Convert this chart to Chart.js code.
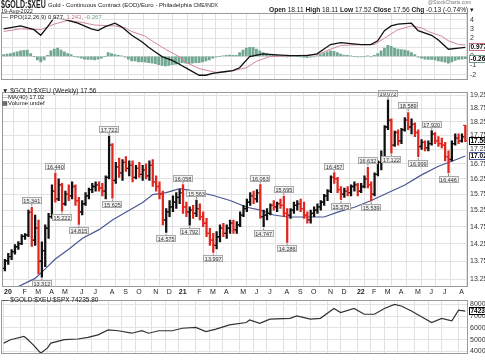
<!DOCTYPE html>
<html><head><meta charset="utf-8">
<script src="https://cdn.jsdelivr.net/npm/chart.js@4.4.1/dist/chart.umd.min.js"></script>
<style>
html,body{margin:0;padding:0;background:#fff}
body{width:485px;height:360px;overflow:hidden;position:relative;font-family:"Liberation Sans",Arial,sans-serif;color:#222}
canvas{position:absolute;left:0}
.t{position:absolute;white-space:nowrap;line-height:1;z-index:5}
</style></head><body>
<canvas id="cP" width="485" height="86" style="top:0"></canvas>
<canvas id="cM" width="485" height="210" style="top:86px"></canvas>
<canvas id="cR" width="485" height="66" style="top:294px"></canvas>

<div class="t" style="left:1px;top:0px;font-size:10px;font-weight:bold;transform:scaleX(0.7);transform-origin:0 0">$GOLD:$XEU</div>
<div class="t" style="left:48px;top:2px;font-size:6px">Gold - Continuous Contract (EOD)/Euro - Philadelphia <span style="font-size:5px">CME/INDX</span></div>
<div class="t" style="left:1px;top:9px;font-size:5.5px">19-Aug-2022</div>
<div class="t" style="left:428px;top:0px;font-size:5px;color:#777">@StockCharts.com</div>
<div class="t" style="left:269px;top:7px;font-size:6.6px"><b>Open</b> 18.11 <b>High</b> 18.11 <b>Low</b> 17.52 <b>Close</b> 17.56 <b>Chg</b> -0.13 (-0.74%) &#9662;</div>

<div class="t" style="left:2px;top:14px;font-size:6px;background:rgba(255,255,255,0.7)"><span style="color:#000">&#8212;</span> PPO(12,26,9) 0.977, <span style="color:#c9707f">1.243</span>, <span style="color:#6a9e88">-0.267</span></div>

<div class="t" style="left:2px;top:88px;font-size:6.5px">&#9660; $GOLD:$XEU (Weekly) 17.56</div>
<div class="t" style="left:2px;top:94px;font-size:6px"><span style="color:#4a5794">&#8212;</span>MA(40) 17.02</div>
<div class="t" style="left:2px;top:100px;font-size:6px">&#9641;Volume undef</div>

<div class="t" style="left:2px;top:297px;font-size:6.5px">&#8212; $GOLD:$XEU:$SPX 74235.80</div>

<script>
// ---------- DATA ----------
const monthLabels = ['20','F','M','A','M','J','J','A','S','O','N','D','21','F','M','A','M','J','J','A','S','O','N','D','22','F','M','A','M','J','J','A'];

const opens = [13.55,13.76,13.88,14.02,14.16,14.25,14.46,14.50,15.18,14.35,
14.70,13.75,14.05,14.70,15.05,15.85,15.60,16.05,15.45,15.75,
15.70,16.00,15.55,15.20,15.45,15.70,15.90,16.00,16.05,15.95,
15.85,16.30,17.40,16.20,16.65,16.45,16.80,16.60,16.70,16.30,
16.60,16.40,16.55,16.35,16.70,16.15,16.00,15.75,14.95,15.20,
15.35,15.50,15.65,15.80,15.35,15.20,15.25,15.15,15.30,15.05,
14.85,14.55,14.35,14.20,14.45,14.70,14.55,14.70,14.85,14.65,
14.80,15.10,15.30,15.50,15.70,15.60,15.80,15.05,15.10,15.15,
15.40,15.35,15.45,15.40,15.15,15.10,15.25,15.40,15.45,15.30,
15.10,14.95,15.15,15.25,15.35,15.50,15.70,15.85,16.30,16.25,
15.90,15.75,15.85,15.80,16.00,16.05,15.85,16.00,16.25,16.05,
15.75,16.40,16.80,16.90,18.05,18.30,17.40,17.85,17.55,17.95,
18.30,18.05,18.15,17.85,17.35,17.50,17.30,17.45,17.80,17.55,
17.45,17.40,17.00,16.90,17.45,17.65,17.55,18.11];
const highs = [13.80,13.97,14.08,14.22,14.31,14.51,14.54,15.25,15.341,15.10,
14.95,14.30,14.80,15.15,16.05,16.44,16.25,16.10,15.85,16.05,
16.15,16.05,15.65,15.55,15.80,15.95,16.10,16.15,16.15,16.10,
16.35,17.722,17.45,16.80,16.95,16.90,17.00,16.85,16.85,16.70,
16.80,16.70,16.75,16.85,16.90,16.35,16.15,15.85,15.30,15.55,
15.70,15.80,15.90,16.058,15.50,15.35,15.40,15.563,15.45,15.20,
15.00,14.70,14.55,14.60,14.80,14.85,14.80,14.95,14.95,14.90,
15.20,15.40,15.60,15.80,15.85,15.90,16.063,15.25,15.30,15.45,
15.55,15.50,15.60,15.695,15.30,15.30,15.50,15.55,15.60,15.50,
15.20,15.25,15.35,15.45,15.55,15.75,15.90,16.35,16.457,16.30,
16.00,15.95,16.00,16.05,16.15,16.10,16.10,16.35,16.632,16.15,
16.45,16.85,17.20,18.10,19.072,18.35,17.90,17.95,18.00,18.40,
18.589,18.35,18.20,17.95,17.60,17.55,17.55,17.920,17.85,17.70,
17.65,17.50,17.20,17.55,17.80,17.80,17.80,18.11];
const lows = [13.48,13.66,13.79,13.95,14.08,14.22,14.37,14.45,14.17,14.20,
13.40,13.312,13.60,14.40,15.00,15.50,15.55,15.222,15.40,15.55,
15.60,15.40,14.815,15.10,15.40,15.60,15.80,15.85,15.85,15.70,
15.60,16.25,15.625,16.10,16.30,16.20,16.50,16.35,16.15,16.25,
16.30,16.20,16.25,16.20,16.00,15.85,15.60,14.80,14.575,15.05,
15.20,15.30,15.45,15.15,15.05,14.792,15.00,15.05,14.95,14.75,
14.45,14.20,13.997,14.10,14.30,14.45,14.40,14.55,14.55,14.55,
14.75,15.05,15.20,15.40,15.45,15.50,15.00,14.747,14.95,15.10,
15.25,15.20,15.30,15.05,14.286,15.00,15.15,15.25,15.20,15.00,
14.85,14.85,15.05,15.15,15.25,15.40,15.55,15.80,16.10,15.80,
15.575,15.65,15.70,15.70,15.85,15.70,15.80,15.95,15.95,15.539,
15.70,16.35,16.55,16.85,17.95,17.122,17.35,17.40,17.45,17.90,
17.95,17.80,17.70,16.999,17.25,17.20,17.20,17.40,17.45,17.35,
17.30,16.85,16.446,16.85,17.40,17.45,17.50,17.52];
const closes = [13.76,13.88,14.02,14.16,14.25,14.46,14.50,15.18,14.35,14.70,
13.75,14.05,14.70,15.05,15.85,15.60,16.05,15.45,15.75,15.70,
16.00,15.55,15.20,15.45,15.70,15.90,16.00,16.05,15.95,15.85,
16.30,17.40,16.20,16.65,16.45,16.80,16.60,16.70,16.30,16.60,
16.40,16.55,16.35,16.70,16.15,16.00,15.75,14.95,15.20,15.35,
15.50,15.65,15.80,15.35,15.20,15.25,15.15,15.30,15.05,14.85,
14.55,14.35,14.20,14.45,14.70,14.55,14.70,14.85,14.65,14.80,
15.10,15.30,15.50,15.70,15.60,15.80,15.05,15.10,15.15,15.40,
15.35,15.45,15.40,15.15,15.10,15.25,15.40,15.45,15.30,15.10,
14.95,15.15,15.25,15.35,15.50,15.70,15.85,16.30,16.25,15.90,
15.75,15.85,15.80,16.00,16.05,15.85,16.00,16.25,16.05,15.75,
16.40,16.80,16.90,18.05,18.30,17.40,17.85,17.55,17.95,18.30,
18.05,18.15,17.85,17.35,17.50,17.30,17.45,17.80,17.55,17.45,
17.40,17.00,16.90,17.45,17.65,17.55,17.69,17.56];

const maIdx = [0,3,9,12,15,19,23,28,32,37,41,44,48,52,56,62,67,72,76,80,84,88,95,99,104,109,114,119,124,129,133,137];
const maVal = [12.80,13.02,13.28,13.54,13.81,14.09,14.40,14.66,14.95,15.25,15.49,15.74,15.80,15.93,15.86,15.71,15.55,15.34,15.25,15.10,15.04,15.04,15.04,15.19,15.34,15.55,15.80,16.05,16.38,16.67,16.84,17.02];

const noteIdx = [8,11,15,17,22,31,32,48,53,55,57,62,76,77,83,84,98,100,108,109,114,115,120,123,127,132];
const noteVal = [15.341,13.312,16.440,15.222,14.815,17.722,15.625,14.575,16.058,14.792,15.563,13.997,16.063,14.747,15.695,14.286,16.457,15.575,16.632,15.539,19.072,17.122,18.589,16.999,17.920,16.446];
const noteSide = ['h','l','h','l','l','h','l','l','h','l','h','l','h','l','h','l','h','l','h','l','h','l','h','l','h','l'];

const priceTicks = [13.25,13.5,13.75,14,14.25,14.5,14.75,15,15.25,15.5,15.75,16,16.25,16.5,16.75,17,17.25,17.5,17.75,18,18.25,18.5,18.75,19,19.25];

const ppoIdx = [0,5,9,11,13,15,18,22,26,28,30,33,35,38,41,43,45,47,50,52,55,58,60,62,66,68,70,73,77,81,85,90,93,97,100,103,106,109,111,113,115,117,121,123,127,129,132,135,137];
const ppoVal = [3.02,3.33,2.92,2.31,3.23,4.24,4.04,3.63,3.02,2.82,3.23,3.63,3.23,2.31,1.60,0.99,0.48,-0.03,-0.44,-0.84,-1.45,-2.07,-2.07,-1.86,-1.66,-1.56,-1.25,-0.03,0.27,0.17,0.07,0.07,0.27,1.29,1.50,1.39,1.29,1.29,1.70,2.82,3.33,3.53,3.63,2.82,2.31,1.80,0.78,0.89,0.977];
const sigIdx = [0,5,11,15,19,23,27,33,36,38,42,44,48,52,54,58,63,67,72,75,79,85,93,97,100,106,110,113,117,121,124,126,130,132,135,137];
const sigVal = [2.72,3.02,2.92,3.53,3.94,3.73,3.43,3.33,3.12,2.72,2.21,1.70,0.78,-0.03,-0.64,-1.35,-1.76,-1.66,-1.25,-0.54,-0.03,0.07,0.17,0.78,1.19,1.29,1.29,2.0,2.92,3.33,3.12,2.72,2.21,1.70,1.29,1.243];
const histVal = [0.2,0.25,0.3,0.4,0.5,0.6,0.65,0.7,0.3,0.0,
-0.4,-0.6,-0.4,0.1,0.6,0.8,0.9,0.7,0.5,0.3,
0.2,0.0,-0.1,-0.2,-0.3,-0.35,-0.35,-0.4,-0.3,-0.2,
0.0,0.4,0.3,0.2,0.1,0.05,-0.1,-0.3,-0.5,-0.5,
-0.6,-0.6,-0.65,-0.7,-0.75,-0.8,-0.9,-1.0,-1.05,-1.0,
-0.9,-0.85,-0.8,-0.7,-0.75,-0.8,-0.75,-0.7,-0.7,-0.6,
-0.5,-0.4,-0.2,-0.1,0.0,0.05,0.1,0.15,0.1,0.1,
0.4,0.7,0.9,1.0,1.0,0.8,0.6,0.4,0.3,0.2,
0.15,0.1,0.05,0.0,-0.05,0.0,0.05,0.0,-0.05,-0.1,
-0.15,-0.1,-0.05,0.05,0.2,0.35,0.5,0.6,0.55,0.4,
0.25,0.15,0.1,0.05,0.0,-0.05,-0.05,0.0,0.05,-0.05,
0.1,0.3,0.6,0.9,1.2,1.1,0.9,0.8,0.75,0.7,
0.6,0.4,0.2,-0.1,-0.2,-0.3,-0.35,-0.35,-0.4,-0.5,
-0.55,-0.65,-0.75,-0.6,-0.45,-0.35,-0.3,-0.267];
const ppoTicks = [-2,-1,0,1,2,3,4];

const ratioIdx = [0,2,6,7,9,11,13,14,18,22,25,28,31,34,38,41,43,46,50,53,57,60,63,67,72,73,76,79,85,87,91,94,98,100,104,107,110,113,116,118,121,124,127,130,133,135,137];
const ratioVal = [47100,50000,52700,50600,45000,38500,43000,47100,50000,50600,52000,54100,58300,57600,55500,57600,55500,57600,57600,59700,60400,56900,59000,62500,64600,66700,63900,67400,68100,70200,67400,68100,76500,73000,76500,71600,71600,76500,80000,78600,74400,69500,64600,68100,66000,75100,74235.8];
const ratioTicks = [40000,50000,60000,70000,80000];

// ---------- helpers ----------
const START = Date.UTC(2020,0,3);
const monthTickIdx = monthLabels.map((_,k)=>{
  const d = Date.UTC(2020+Math.floor(k/12), k%12, 1);
  return Math.max(0, Math.ceil((d-START)/(7*864e5)));
});
const RED = '#e0261f', GRID = '#e2e2e2', FONT = "'Liberation Sans', Arial, sans-serif";
Chart.defaults.font.family = FONT;
Chart.defaults.font.size = 7;
Chart.defaults.color = '#333';
Chart.defaults.animation = false;

const barColors = closes.map((c,i)=> c >= (i>0 ? closes[i-1] : opens[i]) ? '#111' : RED);

function xScale(show){
  return {type:'linear', min:-0.8, max:137.8, offset:false,
    afterBuildTicks: s => { s.ticks = monthTickIdx.map(v=>({value:v})); },
    ticks:{display:show, autoSkip:false, maxRotation:0, padding:1, labelOffset:3, color:'#222',
      font: c => ({family:FONT, size:7, weight: /^\d/.test(monthLabels[c.index]||'') ? 'bold':'normal'}),
      callback:(v,i)=>monthLabels[i]},
    grid:{color:GRID, drawTicks:false}, border:{display:false},
    afterFit: s => { s.height = show ? 9 : 0; }
  };
}
function yScale(extra){
  return Object.assign({position:'right', grid:{color:GRID, drawTicks:false}, border:{display:false},
    ticks:{padding:2, color:'#333', font:{family:FONT,size:7}},
    afterFit: s => { s.width = 17; }}, extra);
}
const frame = {id:'frame', afterDraw(chart){
  const {ctx, chartArea:a} = chart; ctx.save(); ctx.strokeStyle='#9a9a9a'; ctx.lineWidth=1;
  ctx.strokeRect(Math.round(a.left)+0.5, Math.round(a.top)+0.5, Math.round(a.right-a.left)-1, Math.round(a.bottom-a.top)-1); ctx.restore();
}};
const valueBoxes = {id:'valueBoxes', afterDraw(chart, args, opts){
  const {ctx, chartArea, scales:{y}} = chart; ctx.save();
  ctx.font = 'bold 6.5px '+FONT; ctx.textBaseline='middle';
  (opts.items||[]).forEach(it=>{
    const py = Math.round(y.getPixelForValue(it.v));
    const x0 = Math.round(chartArea.right)+1;
    ctx.fillStyle='#fff'; ctx.fillRect(x0, py-4, 24, 8);
    ctx.strokeStyle=it.color; ctx.lineWidth=1; ctx.strokeRect(x0+0.5, py-3.5, 24, 7);
    ctx.fillStyle=it.text2||'#000'; ctx.fillText(it.text, x0+1.5, py+0.5);
  });
  ctx.restore();
}};
const ohlcTicks = {id:'ohlcTicks', afterDatasetsDraw(chart){
  const {ctx, chartArea:a, scales:{x,y}} = chart; ctx.save();
  ctx.beginPath(); ctx.rect(a.left,a.top,a.right-a.left,a.bottom-a.top); ctx.clip();
  ctx.lineWidth = 1.3;
  for(let i=0;i<closes.length;i++){
    const px = x.getPixelForValue(i);
    const yo = y.getPixelForValue(opens[i]), yc = y.getPixelForValue(closes[i]);
    ctx.strokeStyle = barColors[i];
    ctx.beginPath(); ctx.moveTo(px-2.2,yo); ctx.lineTo(px,yo); ctx.moveTo(px,yc); ctx.lineTo(px+2.2,yc); ctx.stroke();
  }
  ctx.restore();
}};
const notes = {id:'notes', afterDatasetsDraw(chart){
  const {ctx, scales:{x,y}} = chart; ctx.save();
  ctx.font = '5.5px '+FONT; ctx.textBaseline='middle'; ctx.textAlign='center'; ctx.lineWidth=1;
  noteIdx.forEach((i,k)=>{
    const px = x.getPixelForValue(i), v = noteVal[k], hi = noteSide[k]==='h';
    const py = y.getPixelForValue(v), txt = v.toFixed(3);
    const w = Math.round(ctx.measureText(txt).width)+3, h = 7;
    const by = Math.round(hi ? py-3-h : py+3);
    ctx.strokeStyle='#888'; ctx.beginPath(); ctx.moveTo(px, hi?py-1:py+1); ctx.lineTo(px, hi?by+h:by); ctx.stroke();
    const bx = Math.round(px-w/2);
    ctx.fillStyle='#f1f1f1'; ctx.fillRect(bx, by, w, h);
    ctx.strokeStyle='#a8a8a8'; ctx.strokeRect(bx+0.5, by+0.5, w-1, h-1);
    ctx.fillStyle='#333'; ctx.fillText(txt, px, by+h/2+0.5);
  });
  ctx.restore();
}};
const baseOpts = (pad) => ({responsive:false, animation:false, events:[],
  layout:{padding:pad}, plugins:{legend:{display:false}, tooltip:{enabled:false}}});

// ---------- PPO panel ----------
new Chart(document.getElementById('cP'), {
  type:'bar',
  data:{datasets:[
    {type:'line', data: ppoIdx.map((x,k)=>({x, y:ppoVal[k]})), borderColor:'#111', borderWidth:1.3, pointRadius:0, order:0},
    {type:'line', data: sigIdx.map((x,k)=>({x, y:sigVal[k]})), borderColor:'#d48796', borderWidth:1, pointRadius:0, order:1},
    {type:'bar', data: histVal.map((v,i)=>({x:i, y:v})), backgroundColor:'#72a892', barThickness:2.2, order:2}
  ]},
  options: Object.assign(baseOpts({top:13,left:1,right:0,bottom:1}), {
    scales:{ x: xScale(false),
      y: yScale({type:'linear', min:-2.57, max:4.75,
        afterBuildTicks: s => { s.ticks = ppoTicks.map(v=>({value:v})); },
        ticks:{padding:2, color:'#333', font:{family:FONT,size:7}, callback: v => String(v)}})},
    plugins:{legend:{display:false}, tooltip:{enabled:false},
      valueBoxes:{items:[{v:0.977, color:'#c9707f', text:'0.977'},{v:-0.267, color:'#6a9e88', text:'-0.267'}]}}
  }),
  plugins:[frame, valueBoxes]
});

// ---------- Price panel ----------
new Chart(document.getElementById('cM'), {
  type:'bar',
  data:{datasets:[
    {type:'line', data: maIdx.map((x,k)=>({x, y:maVal[k]})), borderColor:'#4a5794', borderWidth:1.2, pointRadius:0, order:1},
    {type:'bar', data: highs.map((h,i)=>({x:i, y:[lows[i], h]})), backgroundColor: barColors, barThickness:1.6, order:0}
  ]},
  options: Object.assign(baseOpts({top:1,left:1,right:0,bottom:0}), {
    scales:{ x: xScale(true),
      y: yScale({type:'logarithmic', min:13.05, max:19.37,
        afterBuildTicks: s => { s.ticks = priceTicks.map(v=>({value:v})); },
        ticks:{padding:2, color:'#333', font:{family:FONT,size:7}, callback: v => Number(v).toFixed(2)}})},
    plugins:{legend:{display:false}, tooltip:{enabled:false},
      valueBoxes:{items:[{v:17.02, color:'#4a5794', text:'17.02'},{v:17.56, color:'#000', text:'17.56'}]}}
  }),
  plugins:[frame, ohlcTicks, notes, valueBoxes]
});

// ---------- Ratio panel ----------
new Chart(document.getElementById('cR'), {
  type:'line',
  data:{datasets:[
    {data: ratioIdx.map((x,k)=>({x, y:ratioVal[k]})), borderColor:'#333', borderWidth:1.2, pointRadius:0}
  ]},
  options: Object.assign(baseOpts({top:1,left:1,right:0,bottom:0}), {
    scales:{ x: xScale(false),
      y: yScale({type:'linear', min:38040, max:83500,
        afterBuildTicks: s => { s.ticks = ratioTicks.map(v=>({value:v})); },
        ticks:{padding:2, color:'#333', font:{family:FONT,size:7}, callback: v => String(v)}})},
    plugins:{legend:{display:false}, tooltip:{enabled:false},
      valueBoxes:{items:[{v:74235.8, color:'#000', text:'74235.8'}]}}
  }),
  plugins:[frame, valueBoxes]
});
</script>
</body></html>
